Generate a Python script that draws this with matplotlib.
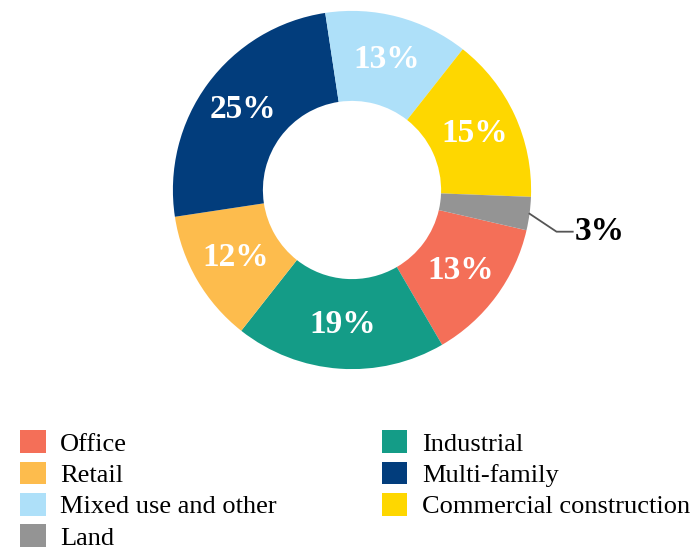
import matplotlib.pyplot as plt
from matplotlib.patches import Patch
import numpy as np

plt.rcParams['font.family'] = ['Liberation Serif', 'DejaVu Serif']

# slices in clockwise order, starting below the small "Land" slice
categories = ['Office', 'Industrial', 'Retail', 'Multi-family',
              'Mixed use and other', 'Commercial construction', 'Land']
shares = [13, 19, 12, 25, 13, 15, 3]
colors = ['#F46F58', '#149C87', '#FDBC4D', '#023D7C',
          '#AEE0F9', '#FED700', '#949494']

fig = plt.figure(figsize=(6.94, 5.49), dpi=100)
W, H = 694, 549
cx, cy, r = 352, 549 - 190, 180
ax = fig.add_axes([(cx - r) / W, (cy - r) / H, 2 * r / W, 2 * r / H])

wedges, _ = ax.pie(shares, colors=colors, startangle=-13, counterclock=False,
                   radius=0.995, wedgeprops=dict(width=0.5, edgecolor='none'))
ax.set_xlim(-1, 1)
ax.set_ylim(-1, 1)
ax.set_aspect('equal')
ax.axis('off')

for w, v in zip(wedges, shares):
    ang = np.deg2rad((w.theta1 + w.theta2) / 2)
    if v < 5:
        x0, y0 = 0.995 * np.cos(ang), 0.995 * np.sin(ang)
        ax.plot([x0, x0 + 0.15, x0 + 0.24], [y0, y0 - 0.1, y0 - 0.1],
                color='#555555', lw=1.3, clip_on=False)
        ax.text(x0 + 0.25, y0 - 0.1, f'{v}%', ha='left', va='center',
                fontsize=24, fontweight='bold', color='black')
    else:
        ax.text(0.75 * np.cos(ang), 0.75 * np.sin(ang), f'{v}%',
                ha='center', va='center', fontsize=24, fontweight='bold',
                color='white')

# legend: left column Office, Retail, Mixed use, Land; right column the rest
order = [0, 2, 4, 6, 1, 3, 5]
handles = [Patch(facecolor=colors[i], edgecolor='none') for i in order]
labels = [categories[i] for i in order]
fig.legend(handles, labels, ncol=2, loc='upper left',
           bbox_to_anchor=(2 / W, 1 - 412 / H), frameon=False,
           fontsize=19, handlelength=0.95, handleheight=0.95,
           handletextpad=0.55, labelspacing=0.22, columnspacing=4.0,
           borderpad=0.2)

fig.savefig('out.png', dpi=100)
